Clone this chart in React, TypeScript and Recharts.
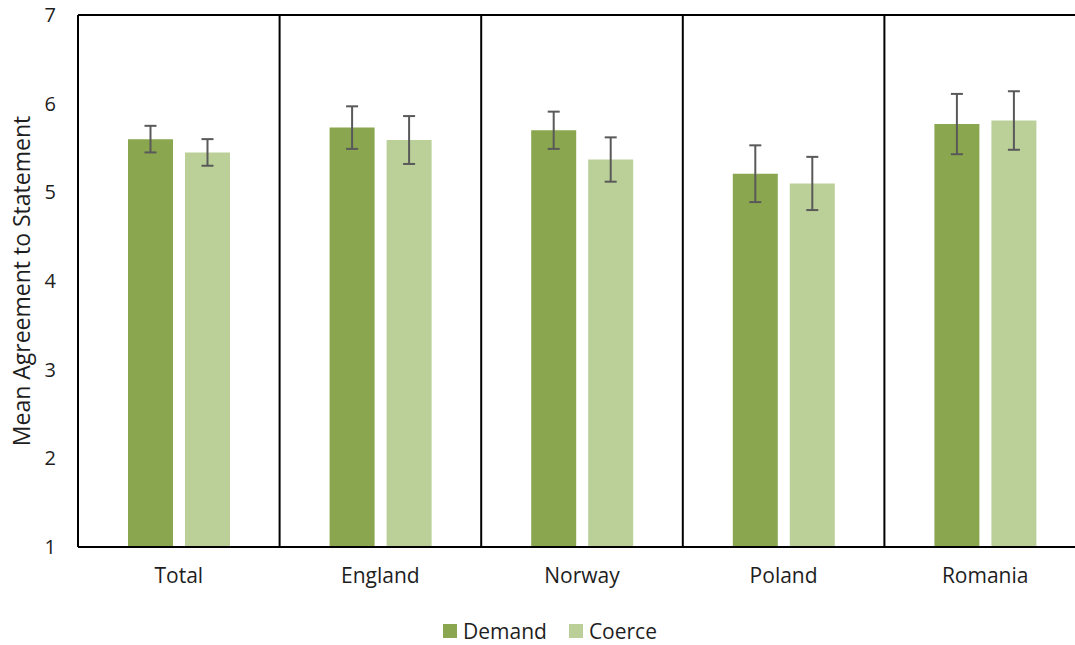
import { BarChart, Bar, XAxis, YAxis, CartesianGrid, ErrorBar, ReferenceLine, Label } from 'recharts';

const categories = ['Total', 'England', 'Norway', 'Poland', 'Romania'];
const demand = [5.6, 5.73, 5.7, 5.21, 5.77];
const demandErr = [0.15, 0.24, 0.21, 0.32, 0.34];
const coerce = [5.45, 5.59, 5.37, 5.1, 5.81];
const coerceErr = [0.15, 0.27, 0.25, 0.3, 0.33];
const yTicks = [1, 2, 3, 4, 5, 6, 7];

const SERIES = [
  { key: 'demand', name: 'Demand', color: '#8aa64f' },
  { key: 'coerce', name: 'Coerce', color: '#bad098' },
];

const FONT = '"Open Sans", sans-serif';
const TEXT = '#1e1e1e';

const data = categories.map((name, i) => ({
  name,
  demand: demand[i],
  demandErr: demandErr[i],
  coerce: coerce[i],
  coerceErr: coerceErr[i],
}));

export default function App() {
  return (
    <div style={{ position: 'absolute', left: 0, top: 0, width: 1075, height: 645, overflow: 'hidden', background: '#fff', fontFamily: FONT }}>
      <BarChart
        width={1100}
        height={645}
        data={data}
        margin={{ top: 15, right: 14, bottom: 48, left: 0 }}
        barSize={45}
        barGap={12}
      >
        <CartesianGrid
          horizontal={false}
          stroke="#000"
          strokeWidth={2}
          verticalCoordinatesGenerator={({ offset }: any) =>
            [1, 2, 3, 4].map((i) => offset.left + (i * offset.width) / categories.length)
          }
        />
        <ReferenceLine y={7} stroke="#000" strokeWidth={2} />
        <XAxis
          dataKey="name"
          axisLine={{ stroke: '#000', strokeWidth: 2 }}
          tickLine={false}
          tickSize={0}
          tickMargin={21}
          height={50}
          tick={{ fill: TEXT, fontSize: 21, fontFamily: FONT }}
        />
        <YAxis
          domain={[1, 7]}
          ticks={yTicks}
          width={78}
          axisLine={{ stroke: '#000', strokeWidth: 2 }}
          tickLine={false}
          tickSize={0}
          tickMargin={22}
          tick={{ fill: TEXT, fontSize: 20, fontFamily: FONT }}
        >
          <Label
            value="Mean Agreement to Statement"
            angle={-90}
            position="center"
            dx={-17}
            style={{ fill: TEXT, fontSize: 23, fontFamily: FONT }}
          />
        </YAxis>
        {SERIES.map((s) => (
          <Bar key={s.key} dataKey={s.key} name={s.name} fill={s.color} isAnimationActive={false}>
            <ErrorBar dataKey={`${s.key}Err`} width={6} stroke="#595959" strokeWidth={2} />
          </Bar>
        ))}
      </BarChart>
      <div
        style={{
          position: 'absolute',
          left: 443,
          top: 617,
          display: 'flex',
          alignItems: 'center',
          fontSize: 21,
          color: TEXT,
          lineHeight: '28px',
        }}
      >
        {SERIES.map((s) => (
          <div key={s.key} style={{ display: 'flex', alignItems: 'center', marginRight: 22 }}>
            <span style={{ width: 14, height: 14, background: s.color, marginRight: 6, display: 'inline-block' }} />
            <span>{s.name}</span>
          </div>
        ))}
      </div>
    </div>
  );
}
